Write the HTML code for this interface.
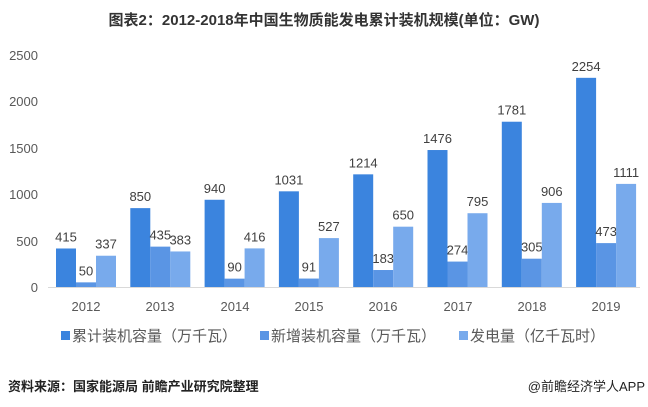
<!DOCTYPE html>
<html><head><meta charset="utf-8"><style>
body{margin:0;background:#fff;}
svg{display:block;font-family:"Liberation Sans","Noto Sans CJK SC",sans-serif;}
</style></head><body>
<svg width="648" height="407" viewBox="0 0 648 407">
<text x="324" y="25" text-anchor="middle" font-size="15" font-weight="bold" fill="#333">图表2：2012-2018年中国生物质能发电累计装机规模(单位：GW)</text>
<g font-size="13" fill="#595959" text-anchor="end">
<text x="38" y="292">0</text><text x="38" y="246">500</text><text x="38" y="199">1000</text>
<text x="38" y="153">1500</text><text x="38" y="106">2000</text><text x="38" y="60">2500</text>
</g>
<line x1="48" y1="287.5" x2="640" y2="287.5" stroke="#d9d9d9"/>
<g id="bars"></g>
<g font-size="13" fill="#595959" text-anchor="middle">
<text x="86" y="311">2012</text><text x="160" y="311">2013</text><text x="235" y="311">2014</text><text x="309" y="311">2015</text>
<text x="383" y="311">2016</text><text x="458" y="311">2017</text><text x="532" y="311">2018</text><text x="606" y="311">2019</text>
</g>
<g font-size="15" fill="#595959">
<rect x="61" y="331" width="9" height="9" fill="#3b84de"/><text x="72" y="341">累计装机容量（万千瓦）</text>
<rect x="260" y="331" width="9" height="9" fill="#5a95e4"/><text x="271" y="341">新增装机容量（万千瓦）</text>
<rect x="459" y="331" width="9" height="9" fill="#78aaec"/><text x="470" y="341">发电量（亿千瓦时）</text>
</g>
<text x="8" y="391" font-size="13" font-weight="bold" fill="#222">资料来源：国家能源局 前瞻产业研究院整理</text>
<text x="645" y="391" font-size="13" fill="#222" text-anchor="end">@前瞻经济学人APP</text>
</svg>
<script>
var d=[[415,50,337],[850,435,383],[940,90,416],[1031,91,527],[1214,183,650],[1476,274,795],[1781,305,906],[2254,473,1111]];
var c=["#3b84de","#5a95e4","#78aaec"],s=0.0928,b=287,h="";
d.forEach(function(g,i){var x0=56+74.3*i;g.forEach(function(v,j){var x=x0+20*j,hh=v*s,t=b-hh;
h+='<rect x="'+x+'" y="'+t+'" width="20" height="'+hh+'" fill="'+c[j]+'"/>';
h+='<text x="'+(x+10)+'" y="'+(t-7)+'" font-size="13" fill="#404040" text-anchor="middle">'+v+'</text>';});});
document.getElementById("bars").innerHTML=h;
</script>
</body></html>
